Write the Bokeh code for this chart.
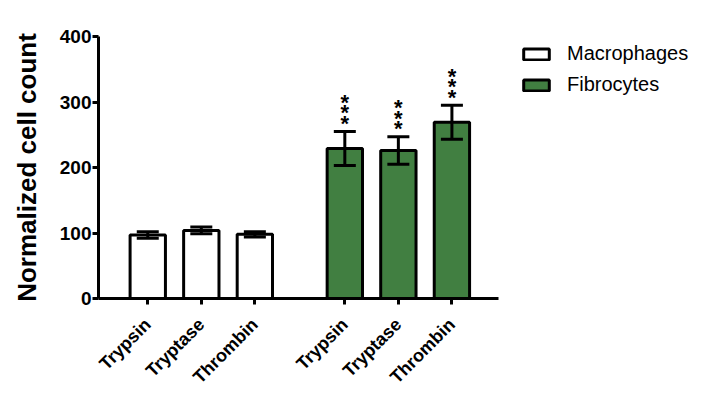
import math
from bokeh.plotting import figure
from bokeh.models import (ColumnDataSource, Range1d, FixedTicker, Whisker, TeeHead,
                          Legend, LegendItem)
from bokeh.core.properties import value
from bokeh.embed import file_html
from bokeh.resources import INLINE

# ---- data ----
treatments = ["Trypsin", "Tryptase", "Thrombin"]
groups = ["Macrophages", "Fibrocytes"]
macro_mean = [97, 104, 98]
macro_err = [5, 5, 4]
fibro_mean = [229, 226, 269]
fibro_err = [26, 21, 26]
significance = ["***", "***", "***"]
y_ticks = [0, 100, 200, 300, 400]

GROUP_GAP = 0.68
FONT = "Liberation Sans"

def positions(g):
    return [1 + g * (len(treatments) + GROUP_GAP) + i for i in range(len(treatments))]

x_macro = positions(0)
x_fibro = positions(1)

src_m = ColumnDataSource(dict(x=x_macro, top=macro_mean,
                              upper=[m + e for m, e in zip(macro_mean, macro_err)],
                              lower=[m - e for m, e in zip(macro_mean, macro_err)]))
src_f = ColumnDataSource(dict(x=x_fibro, top=fibro_mean,
                              upper=[m + e for m, e in zip(fibro_mean, fibro_err)],
                              lower=[m - e for m, e in zip(fibro_mean, fibro_err)],
                              stars=[s for s in significance]))

p = figure(frame_width=400, frame_height=262,
           min_border_left=98, min_border_right=204, min_border_top=36, min_border_bottom=100,
           x_range=Range1d(0.08, 7.55), y_range=Range1d(0, 400),
           output_backend="svg", toolbar_location=None)
p.outline_line_color = None
p.xgrid.visible = False
p.ygrid.visible = False
p.background_fill_color = "white"
p.border_fill_color = "white"

r_m = p.vbar(x="x", top="top", width=0.66, source=src_m, fill_color="white",
             line_color="black", line_width=3)
r_f = p.vbar(x="x", top="top", width=0.66, source=src_f, fill_color="#417f41",
             line_color="black", line_width=3)

for src in (src_m, src_f):
    w = Whisker(base="x", upper="upper", lower="lower", source=src,
                line_width=3, line_color="black", level="overlay",
                upper_head=TeeHead(size=22, line_width=3, line_color="black"),
                lower_head=TeeHead(size=22, line_width=3, line_color="black"))
    p.add_layout(w)

# stacked asterisks
for k, off in enumerate([-8, -18.5, -29]):
    p.text(x="x", y="upper", text=value("*"), source=src_f, y_offset=off,
           text_align="center", text_baseline="middle",
           text_font=value(FONT), text_font_size="22px", text_font_style="bold",
           text_color="black")

# axes
for ax in (p.xaxis[0], p.yaxis[0]):
    ax.axis_line_width = 3
    ax.major_tick_line_width = 3
    ax.major_tick_out = 6
    ax.major_tick_in = 0
    ax.minor_tick_line_color = None
    ax.major_label_text_font = FONT
    ax.major_label_text_font_style = "bold"
    ax.major_label_text_color = "black"

p.yaxis.ticker = FixedTicker(ticks=y_ticks)
p.yaxis.major_label_text_font_size = "19px"
p.yaxis.major_label_standoff = 1
p.yaxis.axis_label = "Normalized cell count"
p.yaxis.axis_label_text_font = FONT
p.yaxis.axis_label_text_font_style = "bold"
p.yaxis.axis_label_text_font_size = "26px"
p.yaxis.axis_label_text_color = "black"
p.yaxis.axis_label_standoff = 15

xt = x_macro + x_fibro
p.xaxis.ticker = FixedTicker(ticks=xt)
p.xaxis.major_label_overrides = {t: n for t, n in zip(xt, treatments + treatments)}
p.xaxis.major_label_orientation = math.pi / 4
p.xaxis.major_label_text_font_size = "18px"
p.xaxis.major_label_standoff = 17

legend = Legend(items=[LegendItem(label=groups[0], renderers=[r_m]),
                       LegendItem(label=groups[1], renderers=[r_f])],
                location=(22, 202), orientation="vertical")
legend.border_line_color = None
legend.background_fill_alpha = 0
legend.padding = 0
legend.margin = 0
legend.glyph_width = 32
legend.glyph_height = 14
legend.label_standoff = 15
legend.label_height = 22
legend.spacing = 8
legend.label_text_font = FONT
legend.label_text_font_size = "20px"
legend.label_text_color = "black"
p.add_layout(legend, "right")

open("out.html", "w").write(file_html(p, INLINE))
